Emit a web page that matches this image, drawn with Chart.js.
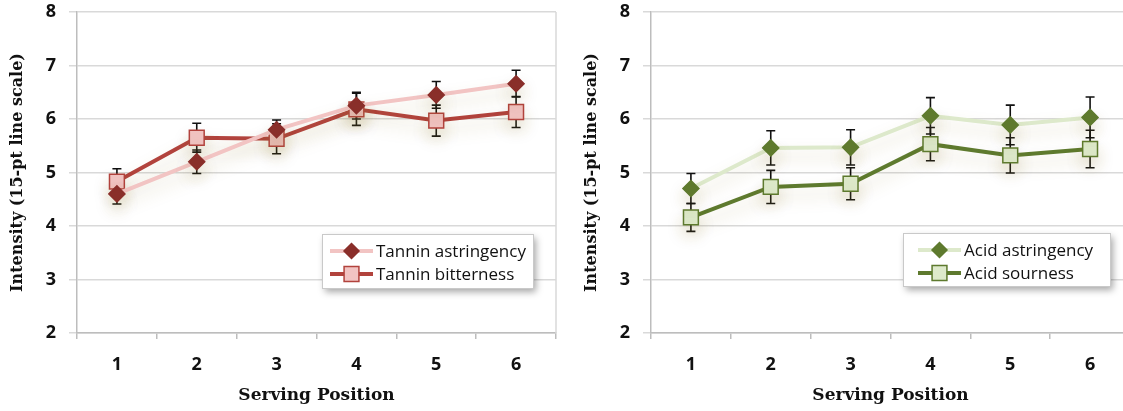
<!DOCTYPE html>
<html>
<head>
<meta charset="utf-8">
<script src="https://cdn.jsdelivr.net/npm/chart.js@4/dist/chart.umd.min.js"></script>
<style>
  html,body{margin:0;padding:0;background:#fff;overflow:hidden;width:1123px;height:411px;}
  .panel{position:absolute;top:0;width:568px;height:411px;}
</style>
</head>
<body>
<div class="panel" style="left:0"><canvas id="left"></canvas></div>
<div class="panel" style="left:574px"><canvas id="right"></canvas></div>
<script>
// serving positions and y axis range
const positions = ['1','2','3','4','5','6'];
const yMin = 2, yMax = 8;

// left panel: tannin
const tanninAstr = [4.60, 5.20, 5.80, 6.25, 6.45, 6.66];
const tanninAstrErr = [0.19, 0.22, 0.18, 0.25, 0.25, 0.25];
const tanninBitter = [4.83, 5.65, 5.63, 6.18, 5.97, 6.13];
const tanninBitterErr = [0.24, 0.27, 0.28, 0.30, 0.29, 0.29];

// right panel: acid
const acidAstr = [4.70, 5.46, 5.47, 6.06, 5.89, 6.03];
const acidAstrErr = [0.28, 0.32, 0.33, 0.34, 0.37, 0.38];
const acidSour = [4.16, 4.73, 4.79, 5.53, 5.32, 5.44];
const acidSourErr = [0.26, 0.31, 0.30, 0.31, 0.33, 0.35];

const TITLE_FONT = 'DejaVu Serif';
const TICK_FONT = 'Open Sans';

// error bars behind the markers
const errorBars = {
  id:'errorBars',
  beforeDatasetsDraw(chart){
    const {ctx, scales:{x,y}} = chart;
    ctx.save();
    ctx.strokeStyle = '#111';
    ctx.lineWidth = 1.6;
    chart.data.datasets.forEach((ds,di)=>{
      if(!ds.errors) return;
      ds.data.forEach((v,i)=>{
        const px = x.getPixelForValue(i);
        const hi = y.getPixelForValue(v + ds.errors[i]);
        const lo = y.getPixelForValue(v - ds.errors[i]);
        ctx.beginPath();
        ctx.moveTo(px, hi); ctx.lineTo(px, lo);
        ctx.moveTo(px-4.5, hi); ctx.lineTo(px+4.5, hi);
        ctx.moveTo(px-4.5, lo); ctx.lineTo(px+4.5, lo);
        ctx.stroke();
      });
    });
    ctx.restore();
  }
};

// soft glow under the lines
const glow = {
  id:'glow',
  beforeDatasetDraw(chart){
    const ctx = chart.ctx;
    ctx.save();
    ctx.shadowColor = 'rgba(150,130,60,0.25)';
    ctx.shadowBlur = 16;
    ctx.shadowOffsetY = 9;
  },
  afterDatasetDraw(chart){ chart.ctx.restore(); }
};

// right border of the plot
const frame = {
  id:'frame',
  beforeDatasetsDraw(chart){
    const {ctx, chartArea:a} = chart;
    ctx.save();
    ctx.strokeStyle = '#d9d9d9';
    ctx.lineWidth = 1.5;
    ctx.beginPath();
    ctx.moveTo(a.right, a.top); ctx.lineTo(a.right, a.bottom);
    ctx.stroke();
    ctx.restore();
  }
};

function marker(ctx, style, x, y, r, fill, stroke){
  ctx.beginPath();
  if(style === 'rectRot'){
    ctx.moveTo(x, y-r); ctx.lineTo(x+r, y); ctx.lineTo(x, y+r); ctx.lineTo(x-r, y); ctx.closePath();
  } else {
    const s = r*Math.SQRT1_2;
    ctx.rect(x-s, y-s, 2*s, 2*s);
  }
  ctx.fillStyle = fill; ctx.fill();
  ctx.lineWidth = 1.5; ctx.strokeStyle = stroke; ctx.stroke();
}

// boxed legend inside the plot
const boxLegend = {
  id:'boxLegend',
  afterDraw(chart, args, opts){
    const {ctx, chartArea:a} = chart;
    const bx = a.left + opts.left, by = a.top + opts.top;
    ctx.save();
    ctx.shadowColor = 'rgba(0,0,0,0.35)';
    ctx.shadowBlur = 7;
    ctx.shadowOffsetX = 3;
    ctx.shadowOffsetY = 4;
    ctx.fillStyle = '#fff';
    ctx.fillRect(bx, by, opts.width, opts.height);
    ctx.shadowColor = 'transparent';
    ctx.strokeStyle = '#c9c9c9';
    ctx.lineWidth = 1;
    ctx.strokeRect(bx+0.5, by+0.5, opts.width, opts.height);
    chart.data.datasets.forEach((ds,i)=>{
      const cy = by + 17 + i*23;
      const x0 = bx + opts.sample, x1 = x0 + 43;
      ctx.strokeStyle = ds.borderColor;
      ctx.lineWidth = 4;
      ctx.beginPath(); ctx.moveTo(x0, cy); ctx.lineTo(x1, cy); ctx.stroke();
      marker(ctx, ds.pointStyle, (x0+x1)/2, cy, ds.pointStyle==='rect' ? 10.5 : 7.5,
        ds.pointBackgroundColor, ds.pointBorderColor);
      ctx.fillStyle = '#111';
      ctx.font = '17px "Open Sans"';
      ctx.textBaseline = 'middle';
      ctx.fillText(ds.label, x1 + 3, cy + 1);
    });
    ctx.restore();
  }
};

function series(label, data, errors, line, pstyle, pfill, pborder, radius){
  return {
    label, data, errors,
    borderColor: line, borderWidth: 4,
    pointStyle: pstyle, pointRadius: radius, pointHoverRadius: radius,
    pointBackgroundColor: pfill, pointBorderColor: pborder, pointBorderWidth: 1.5,
    tension: 0, fill: false
  };
}

function makeChart(id, datasets, legendBox){
  new Chart(document.getElementById(id), {
    type:'line',
    data:{labels: positions, datasets},
    plugins:[frame, errorBars, glow, boxLegend],
    options:{
      responsive:true,
      maintainAspectRatio:false,
      animation:false,
      layout:{padding:{top:11, right:1, left:0, bottom:0}},
      plugins:{
        legend:{display:false},
        tooltip:{enabled:false},
        boxLegend: legendBox
      },
      scales:{
        x:{
          offset:true,
          grid:{offset:true, drawOnChartArea:false, drawTicks:true, tickLength:6, color:'#bdbdbd', lineWidth:1.5},
          border:{color:'#bdbdbd', width:1.5},
          ticks:{color:'#111', padding:15, font:{family:TICK_FONT, size:18, weight:'bold'}},
          title:{display:true, text:'Serving Position', color:'#111', padding:{top:0, bottom:5},
            font:{family:TITLE_FONT, size:17, weight:'bold'}},
          afterFit(s){ s.height = 78; s.paddingLeft = 0; s.paddingRight = 0; }
        },
        y:{
          min:yMin, max:yMax,
          ticks:{stepSize:1, color:'#111', padding:13, font:{family:TICK_FONT, size:18, weight:'bold'}},
          grid:{color:'#d9d9d9', lineWidth:1.5, tickLength:8, drawTicks:true},
          border:{color:'#bdbdbd', width:1.5},
          title:{display:true, text:'Intensity (15-pt line scale)', color:'#111', padding:{top:8, bottom:0},
            font:{family:TITLE_FONT, size:16, weight:'bold'}},
          afterFit(s){ s.width = 77; s.paddingTop = 0; s.paddingBottom = 0; }
        }
      }
    }
  });
}

makeChart('left', [
  series('Tannin astringency', tanninAstr, tanninAstrErr, '#f2c4c3', 'rectRot', '#8a2e2a', '#8a2e2a', 8),
  series('Tannin bitterness', tanninBitter, tanninBitterErr, '#b2433d', 'rect', '#f2c4c3', '#b2433d', 10.5)
], {left:245, top:222, width:211, height:54, sample:8});

makeChart('right', [
  series('Acid astringency', acidAstr, acidAstrErr, '#dde9cb', 'rectRot', '#5e7a2e', '#5e7a2e', 8),
  series('Acid sourness', acidSour, acidSourErr, '#5e7a2e', 'rect', '#deeacb', '#5e7a2e', 10.5)
], {left:252, top:221, width:207, height:53, sample:15});
</script>
</body>
</html>
